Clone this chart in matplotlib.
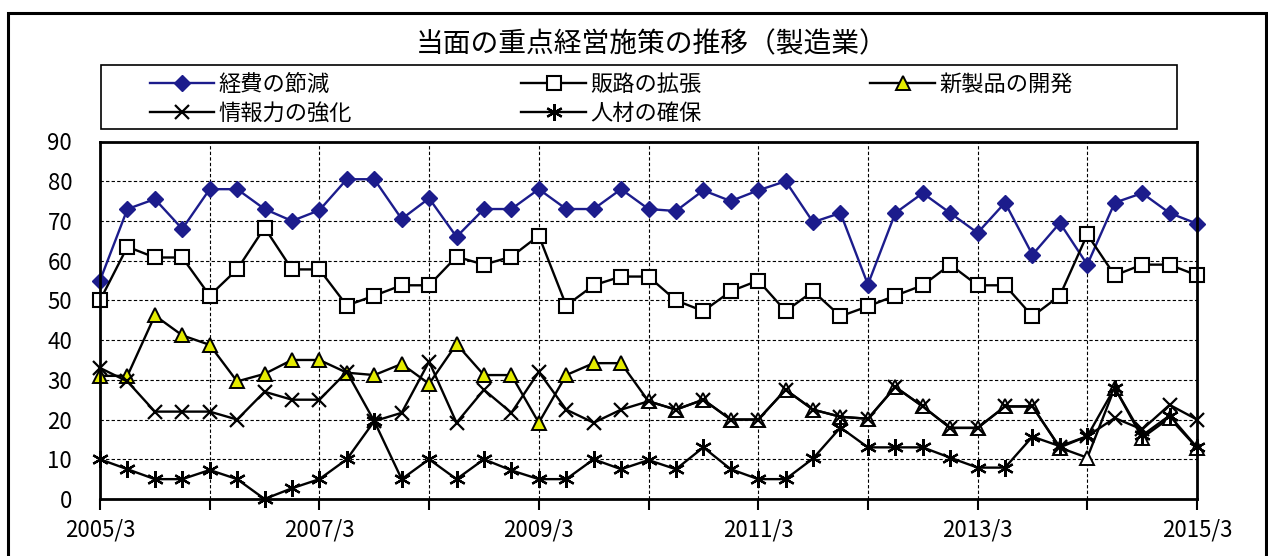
import matplotlib
matplotlib.use("Agg")
import matplotlib.pyplot as plt
from matplotlib.patches import Rectangle

plt.rcParams['font.family'] = ['Noto Sans CJK JP', 'DejaVu Sans']

# 四半期 2005/3 .. 2015/3
quarters = list(range(41))
tick_pos = list(range(0, 41, 4))
tick_labels = ['2005/3', '', '2007/3', '', '2009/3', '', '2011/3', '', '2013/3', '', '2015/3']

keihi = [55, 73, 75.5, 68, 78, 78, 73, 70, 72.7, 80.5, 80.5, 70.5, 75.7, 66, 73, 73, 78, 73, 73, 78,
         73, 72.5, 77.7, 75, 77.7, 80, 69.7, 72, 54, 72, 77, 72, 67, 74.6, 61.5, 69.5, 59, 74.6, 77, 72, 69.3]
hanro = [50, 63.5, 60.8, 60.8, 51.2, 57.8, 68.3, 57.8, 57.8, 48.7, 51.2, 53.8, 53.8, 61, 59, 61, 66.3, 48.7, 53.8, 56,
         56, 50, 47.3, 52.3, 55, 47.3, 52.3, 46, 48.5, 51.2, 53.8, 59, 53.8, 53.8, 46, 51.2, 66.6, 56.3, 59, 59, 56.3]
shinsei = [31, 31, 46.2, 41.2, 38.8, 29.6, 31.5, 35, 35, 31.8, 31.2, 34, 29, 39, 31.2, 31.2, 19.2, 31.2, 34.2, 34.2,
           24.6, 22.5, 25, 20, 20, 27.5, 22.5, 20.7, 20.2, 28.2, 23.3, 17.9, 17.9, 23.3, 23.3, 12.9, 10.4, 28, 15.4, 20.4, 12.9]
joho = [33, 29.6, 22, 22, 22, 20, 27, 25, 25, 32, 19.6, 21.7, 34.6, 19.2, 27.5, 21.7, 32, 22.5, 19.2, 22.5,
        24.6, 22.5, 25, 20, 20, 27.5, 22.5, 20.7, 20.2, 28.2, 23.3, 17.9, 17.9, 23.3, 23.3, 13, 15.8, 20.4, 17.5, 23.7, 20]
jinzai = [10, 7.5, 5, 5, 7.3, 5, 0, 2.7, 5, 10, 19.6, 5, 10, 5, 10, 7.2, 5, 5, 10, 7.5,
          9.8, 7.5, 13, 7.5, 5, 5, 10.2, 18, 13, 13, 13, 10.4, 7.9, 7.9, 15.7, 13.3, 15.8, 28, 16, 21, 13]

W, H = 1268, 556
navy = '#1c1c8c'
yellow = '#e4ec00'

fig = plt.figure(figsize=(W / 100, H / 100), dpi=100)
ax = fig.add_axes([100 / W, 1 - 499 / H, 1097 / W, (499 - 141.5) / H])

# 外枠と凡例枠
fig.patches.append(Rectangle((8 / W, -0.05), (1266 - 8) / W, 1.05 - 13 / H, transform=fig.transFigure,
                             fill=False, edgecolor='black', linewidth=2.2, clip_on=False))
fig.patches.append(Rectangle((101 / W, 1 - 129 / H), 1076 / W, 64 / H, transform=fig.transFigure,
                             fill=False, edgecolor='black', linewidth=1.2))

ax.plot(quarters, keihi, color=navy, lw=1.7, marker='D', ms=8, mfc=navy, mec=navy,
        label='経費の節減', clip_on=False)
ax.plot(quarters, hanro, color='black', lw=1.7, marker='s', ms=10, mfc='white', mec='black', mew=1.5,
        label='販路の拡張', clip_on=False)
ax.plot(quarters, shinsei, color='black', lw=1.7, marker='^', ms=10, mfc=yellow, mec='black', mew=1.4,
        markevery=list(range(20)), label='新製品の開発', clip_on=False)
ax.plot(quarters[20:], shinsei[20:], ls='none', marker='^', ms=10, mfc='white', mec='black', mew=1.4,
        clip_on=False)
ax.plot(quarters, joho, color='black', lw=1.7, marker='x', ms=10, mew=1.6,
        label='情報力の強化', clip_on=False)
ax.plot(quarters, jinzai, color='black', lw=1.7, marker=(6, 2, 0), ms=12, mew=1.6,
        label='人材の確保', clip_on=False)

ax.set_xlim(0, 40)
ax.set_ylim(0, 90)
ax.set_yticks(range(0, 91, 10))
ax.set_xticks(tick_pos)
ax.set_xticklabels(tick_labels)
ax.tick_params(axis='y', length=0, pad=20, labelsize=16)
ax.tick_params(axis='x', length=8, width=1.5, pad=6, labelsize=16)
ax.grid(True, color='black', linestyle=(0, (3, 2)), linewidth=0.8)
for sp in ax.spines.values():
    sp.set_linewidth(2)

h, l = ax.get_legend_handles_labels()
order = [0, 3, 1, 4, 2]
fig.legend([h[i] for i in order], [l[i] for i in order], ncol=3, loc='upper left',
           bbox_to_anchor=(150 / W, 1 - 73 / H), frameon=False,
           fontsize=16, handlelength=2.9, handletextpad=0.2, labelspacing=0.25,
           columnspacing=7.6, borderpad=0, borderaxespad=0)

fig.text(652 / W, 1 - 44 / H, '当面の重点経営施策の推移（製造業）', ha='center', va='center', fontsize=20)

fig.savefig('out.png', dpi=100)
